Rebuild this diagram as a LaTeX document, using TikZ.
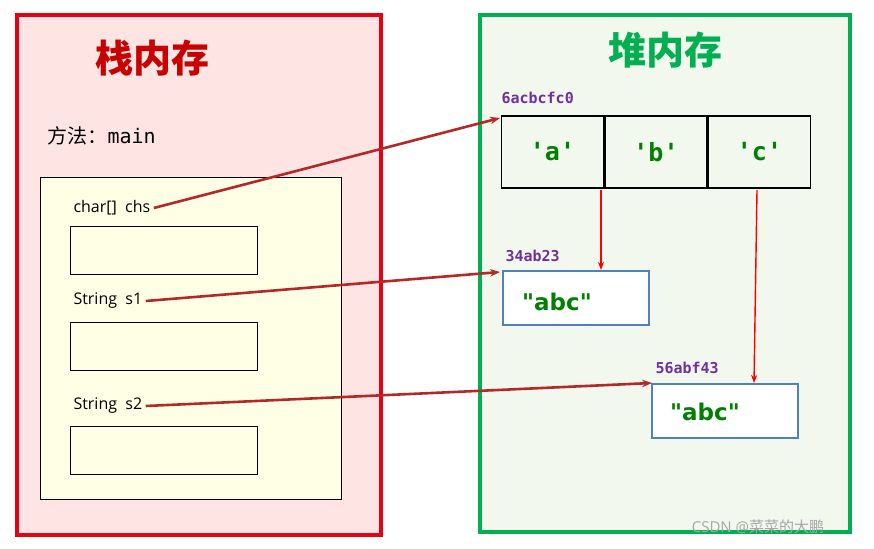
\documentclass[tikz,border=0pt]{standalone}
\usepackage{fontspec}
\setmainfont{Open Sans}
\setmonofont{DejaVu Sans Mono}
\newfontfamily\cjk{Noto Sans CJK SC}
\newfontfamily\valfont{DejaVu Sans}
\usetikzlibrary{positioning, arrows.meta}
\definecolor{stackred}{RGB}{230,0,18}
\definecolor{titlered}{RGB}{200,0,0}
\definecolor{stackfill}{RGB}{255,228,228}
\definecolor{heapgreen}{RGB}{0,176,80}
\definecolor{heapfill}{RGB}{243,248,238}
\definecolor{methodfill}{RGB}{255,255,230}
\definecolor{addr}{RGB}{112,48,160}
\definecolor{val}{RGB}{0,128,0}
\definecolor{refline}{RGB}{180,40,40}
\definecolor{objblue}{RGB}{79,129,189}
\newcommand{\dq}{\symbol{34}}
\tikzset{varbox/.style={draw,line width=1.3pt,minimum width=187pt,minimum height=48pt,anchor=north west},
         varname/.style={anchor=west,font=\fontsize{16}{18}\selectfont},
         addrlabel/.style={anchor=west,text=addr,font=\ttfamily\bfseries\fontsize{15}{17}\selectfont},
         cell/.style={draw,line width=1.5pt,minimum width=102pt,minimum height=72pt,text=val,font=\ttfamily\bfseries\fontsize{25}{27}\selectfont},
         objbox/.style={draw=objblue,line width=2.2pt,fill=white,minimum width=146pt,minimum height=54pt,anchor=north west},
         strval/.style={text=val,font=\valfont\bfseries\fontsize{23}{25}\selectfont},
         ref/.style={draw=refline,line width=2.6pt,-{Stealth[length=10pt]}},
         link/.style={draw=red,line width=1.4pt,-{Stealth[length=8pt]}},
        }
\begin{document}
\begin{tikzpicture}[x=1pt,y=-1pt]
        \useasboundingbox(0,0)rectangle(874,548);
        % stack
        \draw[stackred,line width=4pt,fill=stackfill](17,15)rectangle(381,535);
        \node[text=titlered,font=\cjk\bfseries\fontsize{38}{40}\selectfont](stitle)at(152,58){栈内存};
        \node[anchor=west,font=\fontsize{20}{22}\selectfont](method)at(44,136){{\cjk 方法：}\texttt{main}};
        \draw[line width=1pt,fill=methodfill](40,177)rectangle(341,499);
        \node[varname](chs)at(70,208){char[]\ \ chs};
        \node[varbox](bchs)at(70,226){};
        \node[varname](s1)at(70,301){String\ \ s1};
        \node[varbox](bs1)at(70,322){};
        \node[varname](s2)at(70,406){String\ \ s2};
        \node[varbox](bs2)at(70,426){};
        % heap
        \draw[heapgreen,line width=4pt,fill=heapfill](480,15)rectangle(850,532);
        \node[text=heapgreen,font=\cjk\bfseries\fontsize{38}{40}\selectfont](htitle)at(665,50){堆内存};
        \node[addrlabel](a1)at(498,98){6acbcfc0};
        \node[cell](ca)at(552.5,152){'a'};
        \node[cell,right=0pt of ca](cb){'b'};
        \node[cell,right=0pt of cb](cc){'c'};
        \node[addrlabel](a2)at(502,256){34ab23};
        \node[objbox](o1)at(502,270){};
        \node[strval]at(557,302){\dq abc\dq};
        \node[addrlabel](a3)at(652,368){56abf43};
        \node[objbox](o2)at(651,383){};
        \node[strval]at(705,412){\dq abc\dq};
        \coordinate(e1)at(500,118);
        \coordinate(e2)at(500,272);
        \coordinate(e3)at(652,383);
        % references
        \draw[ref](chs.east)--(e1);
        \draw[ref](s1.east)--(e2);
        \draw[ref](s2.east)--(e3);
        \draw[link](601,190)--(601,270);
        \draw[link](757,190)--(754,383);
        \node[text=gray!70,font=\fontsize{15}{17}\selectfont](wm)at(758,527){CSDN @{\cjk 菜菜的大鹏}};
\end{tikzpicture}
\end{document}
